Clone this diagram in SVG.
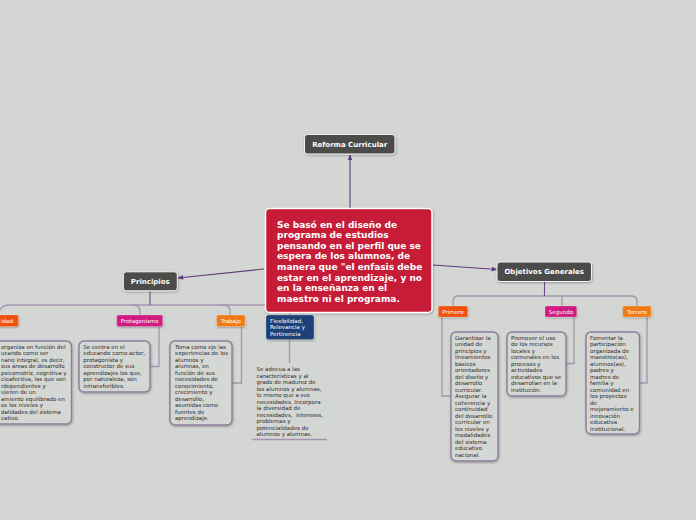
<svg xmlns="http://www.w3.org/2000/svg" width="696" height="520" viewBox="0 0 696 520">
<defs>
<filter id="sh" x="-10%" y="-10%" width="130%" height="130%">
<feDropShadow dx="0.6" dy="1" stdDeviation="0.8" flood-color="#000" flood-opacity="0.3"/>
</filter>
<marker id="arr" viewBox="0 0 10 10" refX="9" refY="5" markerWidth="6" markerHeight="6" orient="auto-start-reverse" markerUnits="userSpaceOnUse">
<path d="M0,1 L10,5 L0,9 z" fill="#5c3c7c"/>
</marker>
<style>
.dark{fill:#4b4b49;stroke:#f4f4f4;stroke-width:1;}
.dt{font-family:"DejaVu Sans",Verdana,sans-serif;font-weight:bold;font-size:7px;fill:#fff;text-anchor:middle;}
.ct{font-family:"DejaVu Sans",Verdana,sans-serif;font-weight:bold;font-size:9px;fill:#fff;}
.lab{stroke:#ffffff;stroke-opacity:0.35;stroke-width:0.6;}
.lt{font-family:"DejaVu Sans",Verdana,sans-serif;font-size:5.5px;fill:#fff;text-anchor:middle;}
.ft{font-family:"DejaVu Sans",Verdana,sans-serif;font-size:5.5px;fill:#fff;}
.box{fill:#d5d7d4;stroke:#8d7d9a;stroke-width:1.4;}
.tx{font-family:"DejaVu Sans",Verdana,sans-serif;font-size:5.5px;fill:#2b2b2b;}
.main{fill:none;stroke:#5c3c7c;stroke-width:1.1;}
.stem{fill:none;stroke:#6a4a88;stroke-width:1.1;}
.br{fill:none;stroke:#a494b0;stroke-width:1.3;}
</style>
</defs>
<rect x="0" y="0" width="696" height="520" fill="#d4d6d3"/>

<g id="connectors">
<line class="main" x1="350" y1="208" x2="350" y2="155" marker-end="url(#arr)"/>
<line class="main" x1="264" y1="269" x2="178" y2="278" marker-end="url(#arr)"/>
<line class="main" x1="433" y1="265" x2="497" y2="269.5" marker-end="url(#arr)"/>
<!-- Principios branch -->
<path class="br" d="M-2,315 Q0,305 10,305 L295,305"/>
<path class="br" d="M132,305 Q140,305 140,311 L140,315"/>
<path class="br" d="M222,305 Q230,305 230,311 L230,315"/>
<path class="br" d="M282,305 Q290,305 290,311 L290,315"/>
<line class="stem" x1="150" y1="291" x2="150" y2="305"/>
<!-- Objetivos branch -->
<path class="br" d="M453,306 L453,301 Q453,296 459,296 L631,296 Q637,296 637,301 L637,306"/>
<line class="br" x1="562" y1="296" x2="562" y2="306"/>
<line class="stem" x1="544.5" y1="282" x2="544.5" y2="296"/>
<!-- detail connectors -->
<path class="br" d="M159,327 L159,366.5 L150,366.5"/>
<path class="br" d="M241.5,327 L241.5,383 L232,383"/>
<line class="br" x1="289.5" y1="339.5" x2="289.5" y2="363"/>
<line class="br" x1="252.5" y1="439.5" x2="327" y2="439.5"/>
<path class="br" d="M442,317 L442,396 L451,396"/>
<path class="br" d="M574,317 L574,363.5 L566,363.5"/>
<path class="br" d="M647,317 L647,383 L639.5,383"/>
</g>

<g id="reforma">
<rect class="dark" x="304.5" y="134.5" width="90.5" height="19.5" rx="3" filter="url(#sh)"/>
<text class="dt" x="349.7" y="147">Reforma Curricular</text>
</g>

<g id="central">
<rect x="265.5" y="208.5" width="166.5" height="104" rx="4" fill="#c71f38" stroke="#ffffff" stroke-width="1.5" filter="url(#sh)"/>
<text class="ct" x="277" y="227.7">Se basó en el diseño de</text>
<text class="ct" x="277" y="238.3">programa de estudios</text>
<text class="ct" x="277" y="248.8">pensando en el perfil que se</text>
<text class="ct" x="277" y="259.4">espera de los alumnos, de</text>
<text class="ct" x="277" y="270">manera que "el enfasis debe</text>
<text class="ct" x="277" y="280.5">estar en el aprendizaje, y no</text>
<text class="ct" x="277" y="291.1">en la enseñanza en el</text>
<text class="ct" x="277" y="301.7">maestro ni el programa.</text>
</g>

<g id="principios">
<rect class="dark" x="123.3" y="271.8" width="54" height="19" rx="3" filter="url(#sh)"/>
<text class="dt" x="150.3" y="284">Principios</text>
</g>

<g id="objetivos">
<rect class="dark" x="497" y="262" width="94.5" height="19.5" rx="3" filter="url(#sh)"/>
<text class="dt" x="544.2" y="274.3">Objetivos Generales</text>
</g>

<g id="identidad">
<rect class="lab" x="-20" y="315" width="38.3" height="11.5" rx="1.5" fill="#f24f0d" filter="url(#sh)"/>
<text class="ft" x="1" y="322.8">idad:</text>
</g>

<g id="protagonismo">
<rect class="lab" x="116.8" y="315" width="45.8" height="11.5" rx="1.5" fill="#d01b80" filter="url(#sh)"/>
<text class="lt" x="139.7" y="322.8">Protagonismo</text>
</g>

<g id="trabajo">
<rect class="lab" x="216.7" y="315" width="28.3" height="11.5" rx="1.5" fill="#f07a14" filter="url(#sh)"/>
<text class="lt" x="230.9" y="322.8">Trabajo</text>
</g>

<g id="flexibilidad">
<rect x="266" y="315" width="48" height="24.5" rx="2.5" fill="#1c3f78" stroke="#ffffff" stroke-opacity="0.35" stroke-width="0.6" filter="url(#sh)"/>
<text class="ft" x="270" y="322.6">Flexibilidad,</text>
<text class="ft" x="270" y="329.2">Relevancia y</text>
<text class="ft" x="270" y="335.8">Pertinencia</text>
</g>

<g id="identidad-detalle">
<rect class="box" x="-20" y="341" width="91.5" height="83" rx="5" filter="url(#sh)"/>
<text class="tx" x="1" y="348.7">organiza en función del</text>
<text class="tx" x="1" y="355.2">ucando como ser</text>
<text class="tx" x="1" y="361.7">nano integral, es decir,</text>
<text class="tx" x="1" y="368.2">sus áreas de desarrollo</text>
<text class="tx" x="1" y="374.7">psicomotriz, cognitiva y</text>
<text class="tx" x="1" y="381.2">cioafectiva, las que son</text>
<text class="tx" x="1" y="387.7">rdependientes y</text>
<text class="tx" x="1" y="394.2">uieren de un</text>
<text class="tx" x="1" y="400.7">amiento equilibrado en</text>
<text class="tx" x="1" y="407.2">os los niveles y</text>
<text class="tx" x="1" y="413.7">dalidades del sistema</text>
<text class="tx" x="1" y="420.2">cativo.</text>
</g>

<g id="protagonismo-detalle">
<rect class="box" x="79" y="341" width="71" height="51" rx="5" filter="url(#sh)"/>
<text class="tx" x="83.3" y="348.7">Se centra en el</text>
<text class="tx" x="83.3" y="355.2">educando como actor,</text>
<text class="tx" x="83.3" y="361.7">protagonista y</text>
<text class="tx" x="83.3" y="368.2">constructor de sus</text>
<text class="tx" x="83.3" y="374.7">aprendizajes los que,</text>
<text class="tx" x="83.3" y="381.2">por naturaleza, son</text>
<text class="tx" x="83.3" y="387.7">intransferibles.</text>
</g>

<g id="trabajo-detalle">
<rect class="box" x="170" y="341" width="62" height="84" rx="5" filter="url(#sh)"/>
<text class="tx" x="175" y="348.7">Toma como eje las</text>
<text class="tx" x="175" y="355.2">experiencias de los</text>
<text class="tx" x="175" y="361.7">alumnos y</text>
<text class="tx" x="175" y="368.2">alumnas, en</text>
<text class="tx" x="175" y="374.7">función de sus</text>
<text class="tx" x="175" y="381.2">necesidades de</text>
<text class="tx" x="175" y="387.7">conocimiento,</text>
<text class="tx" x="175" y="394.2">crecimiento y</text>
<text class="tx" x="175" y="400.7">desarrollo,</text>
<text class="tx" x="175" y="407.2">asumidas como</text>
<text class="tx" x="175" y="413.7">fuentes de</text>
<text class="tx" x="175" y="420.2">aprendizaje.</text>
</g>

<g id="flexibilidad-detalle">
<text class="tx" x="256.5" y="371">Se adecua a las</text>
<text class="tx" x="256.5" y="377.5">características y al</text>
<text class="tx" x="256.5" y="384">grado de madurez de</text>
<text class="tx" x="256.5" y="390.5">los alumnos y alumnas,</text>
<text class="tx" x="256.5" y="397">lo mismo que a sus</text>
<text class="tx" x="256.5" y="403.5">necesidades. Incorpora</text>
<text class="tx" x="256.5" y="410">la diversidad de</text>
<text class="tx" x="256.5" y="416.5" xml:space="preserve">necesidades,  intereses,</text>
<text class="tx" x="256.5" y="423">problemas y</text>
<text class="tx" x="256.5" y="429.5">potencialidades de</text>
<text class="tx" x="256.5" y="436">alumnos y alumnas.</text>
</g>

<g id="primero">
<rect class="lab" x="438.3" y="306" width="29.4" height="11" rx="1.5" fill="#f24f0d" filter="url(#sh)"/>
<text class="lt" x="453" y="313.6">Primero</text>
</g>

<g id="segundo">
<rect class="lab" x="545" y="306" width="31.7" height="11" rx="1.5" fill="#d01b80" filter="url(#sh)"/>
<text class="lt" x="560.9" y="313.6">Segundo</text>
</g>

<g id="tercero">
<rect class="lab" x="622.7" y="306" width="28.3" height="11" rx="1.5" fill="#f07a14" filter="url(#sh)"/>
<text class="lt" x="636.9" y="313.6">Tercero</text>
</g>

<g id="primero-detalle">
<rect class="box" x="451" y="332" width="47" height="129" rx="5" filter="url(#sh)"/>
<text class="tx" x="455" y="339.7">Garantizar la</text>
<text class="tx" x="455" y="346.2">unidad de</text>
<text class="tx" x="455" y="352.7">principios y</text>
<text class="tx" x="455" y="359.2">lineamientos</text>
<text class="tx" x="455" y="365.7">básicos</text>
<text class="tx" x="455" y="372.2">orientadores</text>
<text class="tx" x="455" y="378.7">del diseño y</text>
<text class="tx" x="455" y="385.2">desarrollo</text>
<text class="tx" x="455" y="391.7">curricular.</text>
<text class="tx" x="455" y="398.2">Asegurar la</text>
<text class="tx" x="455" y="404.7">coherencia y</text>
<text class="tx" x="455" y="411.2">continuidad</text>
<text class="tx" x="455" y="417.7">del desarrollo</text>
<text class="tx" x="455" y="424.2">curricular en</text>
<text class="tx" x="455" y="430.7">los niveles y</text>
<text class="tx" x="455" y="437.2">modalidades</text>
<text class="tx" x="455" y="443.7">del sistema</text>
<text class="tx" x="455" y="450.2">educativo</text>
<text class="tx" x="455" y="456.7">nacional.</text>
</g>

<g id="segundo-detalle">
<rect class="box" x="507" y="332" width="59" height="64" rx="5" filter="url(#sh)"/>
<text class="tx" x="511" y="339.7">Promover el uso</text>
<text class="tx" x="511" y="346.2">de los recursos</text>
<text class="tx" x="511" y="352.7">locales y</text>
<text class="tx" x="511" y="359.2">comunales en los</text>
<text class="tx" x="511" y="365.7">procesos y</text>
<text class="tx" x="511" y="372.2">actividades</text>
<text class="tx" x="511" y="378.7">educativos que se</text>
<text class="tx" x="511" y="385.2">desarrollan en la</text>
<text class="tx" x="511" y="391.7">institución.</text>
</g>

<g id="tercero-detalle">
<rect class="box" x="586" y="332" width="53.5" height="102" rx="5" filter="url(#sh)"/>
<text class="tx" x="590" y="339.7">Fomentar la</text>
<text class="tx" x="590" y="346.2">participación</text>
<text class="tx" x="590" y="352.7">organizada de</text>
<text class="tx" x="590" y="359.2">maestros(as),</text>
<text class="tx" x="590" y="365.7">alumnos(as),</text>
<text class="tx" x="590" y="372.2">padres y</text>
<text class="tx" x="590" y="378.7">madres de</text>
<text class="tx" x="590" y="385.2">familia y</text>
<text class="tx" x="590" y="391.7">comunidad en</text>
<text class="tx" x="590" y="398.2">los proyectos</text>
<text class="tx" x="590" y="404.7">de</text>
<text class="tx" x="590" y="411.2">mejoramiento e</text>
<text class="tx" x="590" y="417.7">innovación</text>
<text class="tx" x="590" y="424.2">educativa</text>
<text class="tx" x="590" y="430.7">institucional.</text>
</g>
</svg>
